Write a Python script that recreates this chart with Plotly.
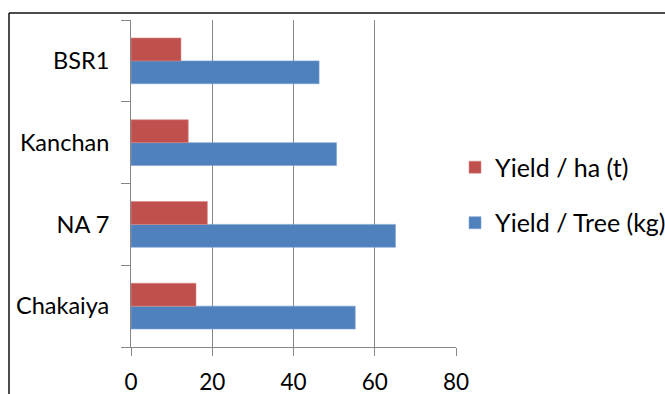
import plotly.graph_objects as go

categories = ["Chakaiya", "NA 7", "Kanchan", "BSR1"]
yield_ha = [16.0, 18.8, 14.1, 12.3]
yield_tree = [55.2, 65.1, 50.6, 46.3]
x_ticks = [0, 20, 40, 60, 80]

FONT = "Lato"

fig = go.Figure()
fig.add_trace(go.Bar(
    y=categories, x=yield_tree, orientation="h", name="Yield / Tree (kg)",
    marker=dict(color="#4F81BD", line=dict(color="#7FA3D3", width=0.6)),
    legendgroup="b", legendrank=2,
))
fig.add_trace(go.Bar(
    y=categories, x=yield_ha, orientation="h", name="Yield / ha (t)",
    marker=dict(color="#C0504D", line=dict(color="#D98A88", width=0.6)),
    legendgroup="a", legendrank=1,
))

fig.update_layout(
    width=665, height=394,
    margin=dict(l=131, r=209, t=20, b=47, autoexpand=False),
    paper_bgcolor="white", plot_bgcolor="white",
    barmode="group", bargap=0.44, bargroupgap=0,
    font=dict(family=FONT, size=20, color="#000000"),
    legend=dict(
        x=0.997, xanchor="left", y=0.465, yanchor="middle",
        traceorder="grouped", tracegroupgap=20,
        font=dict(family=FONT, size=25, color="#000000"),
        itemwidth=30,
    ),
    xaxis=dict(
        range=[0, 80], tickvals=x_ticks, showgrid=True, gridcolor="#868686", gridwidth=1,
        showline=True, linecolor="#868686", linewidth=1,
        ticks="outside", ticklen=8, tickcolor="#868686",
        zeroline=False, tickfont=dict(size=22.5), ticklabelstandoff=7,
        automargin=False,
    ),
    yaxis=dict(
        categoryorder="array", categoryarray=categories,
        showline=True, linecolor="#868686", linewidth=1,
        ticks="outside", ticklen=9, tickcolor="#868686", tickson="boundaries",
        showgrid=False, tickfont=dict(size=23.5), ticklabelstandoff=16,
        automargin=False,
    ),
    shapes=[
        dict(type="line", xref="paper", yref="paper",
             x0=(9 - 131) / 325, x1=(700 - 131) / 325,
             y0=(347 - 13) / 327, y1=(347 - 13) / 327,
             line=dict(color="#111111", width=1.5)),
        dict(type="line", xref="paper", yref="paper",
             x0=(9 - 131) / 325, x1=(9 - 131) / 325,
             y0=(347 - 13) / 327, y1=(347 - 420) / 327,
             line=dict(color="#111111", width=1.5)),
    ],
)

fig.write_html("out.html")
